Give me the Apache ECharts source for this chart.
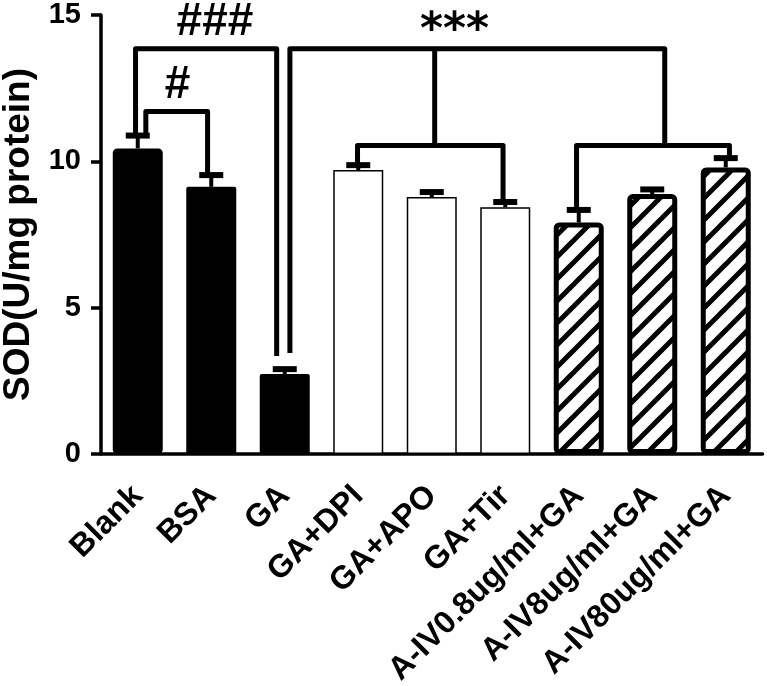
<!DOCTYPE html>
<html>
<head>
<meta charset="utf-8">
<script src="https://cdn.jsdelivr.net/npm/echarts@6/dist/echarts.min.js"></script>
<style>
html,body{margin:0;padding:0;background:#fff;}
#chart{width:767px;height:686px;}
</style>
</head>
<body>
<div id="chart"></div>
<script>
// ---- data ----
var categories = ['Blank', 'BSA', 'GA', 'GA+DPI', 'GA+APO', 'GA+Tir', 'A-IV0.8ug/ml+GA', 'A-IV8ug/ml+GA', 'A-IV80ug/ml+GA'];
var values = [10.44, 9.13, 2.73, 9.70, 8.78, 8.43, 7.91, 8.88, 9.79];
var errors = [0.44, 0.40, 0.17, 0.17, 0.17, 0.18, 0.43, 0.16, 0.32];
var groups = ['black', 'black', 'black', 'white', 'white', 'white', 'hatch', 'hatch', 'hatch'];
var yTicks = [0, 5, 10, 15];
// brackets: [xLeft, yLeftEnd, xRight, yRightEnd, yTop] (x in category units)
var brackets = [
  [-0.03, 10.88, 1.89, 3.35, 13.85],
  [0.11, 10.88, 0.95, 9.53, 11.70],
  [2.07, 3.45, 7.17, 10.54, 13.85],
  [2.99, 9.87, 4.97, 8.61, 10.54],
  [5.97, 8.34, 8.05, 10.11, 10.54]
];
// stems: [x, yTop, yBottom]
var stems = [[4.04, 13.85, 10.54]];
var sigLabels = ['###', '#', '***'];
var sigX = [1.05, 0.54, 4.31];
var sigY = [14.76, 12.60, 14.45];

// ---- hatch pattern ----
function makeHatch() {
  var s = 22;
  var c = document.createElement('canvas');
  c.width = s; c.height = s;
  var ctx = c.getContext('2d');
  ctx.fillStyle = '#fff';
  ctx.fillRect(0, 0, s, s);
  ctx.strokeStyle = '#000';
  ctx.lineWidth = 5;
  ctx.lineCap = 'square';
  [[-s/2, s/2, s/2, -s/2], [0, s, s, 0], [s/2, s*1.5, s*1.5, s/2]].forEach(function (l) {
    ctx.beginPath(); ctx.moveTo(l[0], l[1]); ctx.lineTo(l[2], l[3]); ctx.stroke();
  });
  return c;
}
var hatch = makeHatch();

var barData = values.map(function (v, i) {
  var g = groups[i];
  var st;
  if (g === 'black') {
    st = { color: '#000', borderColor: '#000', borderWidth: i === 0 ? 5 : 0, borderRadius: 2 };
  } else if (g === 'white') {
    st = { color: '#fff', borderColor: '#000', borderWidth: 1.5, borderRadius: 0 };
  } else {
    st = { color: { image: hatch, repeat: 'repeat' }, borderColor: '#000', borderWidth: 5, borderRadius: 3 };
  }
  return { value: v, itemStyle: st };
});

function xPix(api, x, y) {
  var base = api.coord([0, y]);
  var bw = api.size([1, 0])[0];
  return [base[0] + x * bw, base[1]];
}

var chart = echarts.init(document.getElementById('chart'), null, { renderer: 'canvas' });
var FONT = '"Liberation Sans", Arial, Helvetica, sans-serif';
chart.setOption({
  animation: false,
  backgroundColor: '#fff',
  grid: { left: 101, right: 4.5, top: 15, bottom: 232, containLabel: false, outerBoundsMode: 'none' },
  xAxis: {
    type: 'category',
    data: categories,
    boundaryGap: true,
    axisLine: { lineStyle: { color: '#000', width: 3.5 } },
    axisTick: { alignWithLabel: true, length: 10, lineStyle: { color: '#000', width: 3.5 } },
    axisLabel: { rotate: 45, interval: 0, margin: 37, color: '#000', fontSize: 32, fontWeight: 'bold', fontFamily: FONT }
  },
  yAxis: {
    type: 'value',
    min: yTicks[0], max: yTicks[yTicks.length - 1], interval: 5,
    name: 'SOD(U/mg protein)',
    nameLocation: 'middle',
    nameRotate: 90,
    nameGap: 64,
    nameMoveOverlap: false,
    nameTextStyle: { color: '#000', fontSize: 37, fontWeight: 'bold', fontFamily: FONT },
    axisLine: { show: true, lineStyle: { color: '#000', width: 3.5 } },
    axisTick: { show: true, length: 10, lineStyle: { color: '#000', width: 3.5 } },
    axisLabel: { margin: 20, color: '#000', fontSize: 29, fontWeight: 'bold', fontFamily: FONT },
    splitLine: { show: false }
  },
  series: [
    {
      type: 'bar',
      data: barData,
      barWidth: 50,
      z: 2
    },
    {
      type: 'custom',
      z: 3,
      data: values.map(function (v, i) { return [i, v, errors[i]]; }),
      renderItem: function (params, api) {
        var i = api.value(0), v = api.value(1), e = api.value(2);
        var p0 = api.coord([i, v]);
        var p1 = api.coord([i, v + e]);
        return {
          type: 'group',
          children: [
            { type: 'line', shape: { x1: p0[0], y1: p0[1], x2: p1[0], y2: p1[1] }, style: { stroke: '#000', lineWidth: 4 } },
            { type: 'line', shape: { x1: p1[0] - 12, y1: p1[1], x2: p1[0] + 12, y2: p1[1] }, style: { stroke: '#000', lineWidth: 6 } }
          ]
        };
      }
    },
    {
      type: 'custom',
      z: 4,
      data: brackets.map(function (b, i) { return [i % categories.length, b[4]]; }),
      renderItem: function (params, api) {
        var b = brackets[params.dataIndex];
        var pts = [xPix(api, b[0], b[1]), xPix(api, b[0], b[4]), xPix(api, b[2], b[4]), xPix(api, b[2], b[3])];
        return {
          type: 'polyline',
          shape: { points: pts },
          style: { stroke: '#000', lineWidth: 5, fill: null, lineJoin: 'round' }
        };
      }
    },
    {
      type: 'custom',
      z: 4,
      data: stems.map(function (s, i) { return [i, s[1]]; }),
      renderItem: function (params, api) {
        var s = stems[params.dataIndex];
        var a = xPix(api, s[0], s[1]), b = xPix(api, s[0], s[2]);
        return { type: 'line', shape: { x1: a[0], y1: a[1], x2: b[0], y2: b[1] }, style: { stroke: '#000', lineWidth: 5 } };
      }
    },
    {
      type: 'custom',
      z: 5,
      data: sigLabels.map(function (t, i) { return [i, sigY[i]]; }),
      renderItem: function (params, api) {
        var k = params.dataIndex;
        var p = xPix(api, sigX[k], sigY[k]);
        var isStar = sigLabels[k].indexOf('*') >= 0;
        return {
          type: 'text',
          x: p[0], y: p[1],
          style: {
            text: sigLabels[k],
            fill: '#000',
            align: 'center',
            verticalAlign: 'middle',
            fontSize: isStar ? 44 : 46,
            fontWeight: 'bold',
            fontFamily: isStar ? '"DejaVu Sans", sans-serif' : FONT
          }
        };
      }
    }
  ]
});
</script>
</body>
</html>
